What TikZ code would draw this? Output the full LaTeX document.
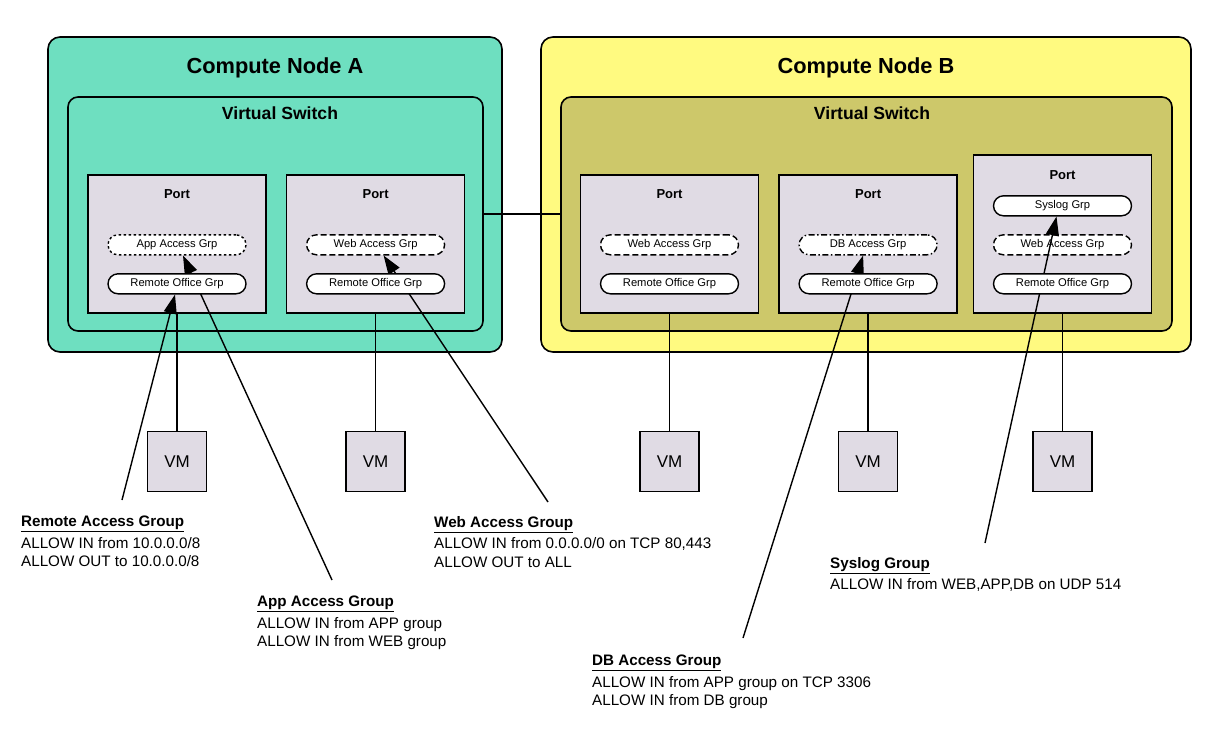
\documentclass[tikz,border=0pt]{standalone}
\usepackage{fontspec}
\setmainfont{Liberation Sans}
\usetikzlibrary{positioning,arrows.meta}
\definecolor{NodeTeal}{RGB}{110,223,192}
\definecolor{NodeYellow}{RGB}{255,250,128}
\definecolor{SwitchOlive}{RGB}{205,200,106}
\definecolor{PortGrey}{RGB}{224,219,228}
\tikzstyle{ComputeNode}=[rectangle, draw=black, line width=1.6pt, rounded corners=12pt, inner sep=0pt, minimum height=315pt]
\tikzstyle{VSwitch}=[rectangle, draw=black, line width=1.6pt, rounded corners=10pt, inner sep=0pt, minimum height=234pt]
\tikzstyle{PortBox}=[rectangle, draw=black, fill=PortGrey, line width=1.6pt, minimum width=178pt, minimum height=138pt, inner sep=0pt]
\tikzstyle{GrpPill}=[rectangle, draw=black, fill=white, line width=1.4pt, rounded corners=10pt, minimum width=138pt, minimum height=20pt, inner sep=0pt, font=\fontsize{11.2}{13}\selectfont]
\tikzstyle{VMBox}=[rectangle, draw=black, fill=PortGrey, line width=1.6pt, minimum width=59pt, minimum height=60pt, inner sep=0pt, font=\fontsize{17}{19}\selectfont]
\tikzstyle{NodeTitle}=[font=\bfseries\fontsize{21.8}{25}\selectfont]
\tikzstyle{SwitchTitle}=[font=\bfseries\fontsize{17.6}{20}\selectfont]
\tikzstyle{PortTitle}=[font=\bfseries\fontsize{13}{15}\selectfont]
\tikzstyle{Wire}=[line width=1.4pt]
\tikzstyle{GrpArrow}=[line width=1.4pt, -{Triangle[length=19pt,width=13pt]}]
\tikzstyle{RuleText}=[anchor=north west, align=left, inner sep=0pt, font=\fontsize{15.2}{18.5}\selectfont]

\begin{document}
\begin{tikzpicture}[x=1pt,y=-1pt]
	\useasboundingbox (0,0) rectangle (1210,732);

	%Nodos de computo
	\node[ComputeNode, fill=NodeTeal, minimum width=454pt]		(node_a)	at (275,194.5)	{};
	\node[ComputeNode, fill=NodeYellow, minimum width=650pt]	(node_b)	at (866,194.5)	{};
	\node[NodeTitle]	(node_a_t)	at (275,68)	{Compute Node A};
	\node[NodeTitle]	(node_b_t)	at (866,68)	{Compute Node B};

	%Switches
	\node[VSwitch, fill=NodeTeal, minimum width=415pt]		(vs_a)	at (275.5,214)	{};
	\node[VSwitch, fill=SwitchOlive, minimum width=611pt]	(vs_b)	at (866.5,214)	{};
	\node[SwitchTitle]	(vs_a_t)	at (280,113)	{Virtual Switch};
	\node[SwitchTitle]	(vs_b_t)	at (872,113)	{Virtual Switch};

	%Puertos
	\node[PortBox]	(port_a1)	at (177,244)	{};
	\node[PortBox]	(port_a2)	[right=19pt of port_a1]	{};
	\node[PortBox]	(port_b1)	at (669.5,244)	{};
	\node[PortBox]	(port_b2)	[right=19pt of port_b1]	{};
	\node[PortBox, minimum height=158pt]	(port_b3)	at (1062.5,234)	{};

	\foreach \p in {port_a1,port_a2,port_b1,port_b2}
		\node[PortTitle]	at ([yshift=-20pt]\p.north)	{Port};
	\node[PortTitle]	at ([yshift=-21pt]port_b3.north)	{Port};

	%Grupos
	\node[GrpPill, dash pattern=on 2.5pt off 2.5pt]	(port_a1_app)	at ([yshift=69pt]port_a1.south)	{App Access Grp};
	\node[GrpPill, dash pattern=on 6pt off 3pt]		(port_a2_web)	at ([yshift=69pt]port_a2.south)	{Web Access Grp};
	\node[GrpPill, dash pattern=on 6pt off 3pt]		(port_b1_web)	at ([yshift=69pt]port_b1.south)	{Web Access Grp};
	\node[GrpPill, dash pattern=on 6pt off 2.5pt on 1.5pt off 2.5pt]	(port_b2_db)	at ([yshift=69pt]port_b2.south)	{DB Access Grp};
	\node[GrpPill, dash pattern=on 6pt off 3pt]		(port_b3_web)	at ([yshift=69pt]port_b3.south)	{Web Access Grp};
	\node[GrpPill]	(port_b3_sys)	at ([yshift=108pt]port_b3.south)	{Syslog Grp};

	%Reglas
	\node[RuleText]	(lbl_remote)	at (21,516)	{\underline{\textbf{Remote Access Group}}\\[3pt]ALLOW IN from 10.0.0.0/8\\ALLOW OUT to 10.0.0.0/8};
	\node[RuleText]	(lbl_app)	at (257,596)	{\underline{\textbf{App Access Group}}\\[3pt]ALLOW IN from APP group\\ALLOW IN from WEB group};
	\node[RuleText]	(lbl_web)	at (434,516)	{\underline{\textbf{Web Access Group}}\\[3pt]ALLOW IN from 0.0.0.0/0 on TCP 80,443\\ALLOW OUT to ALL};
	\node[RuleText]	(lbl_sys)	at (830,557)	{\underline{\textbf{Syslog Group}}\\[3pt]ALLOW IN from WEB,APP,DB on UDP 514};
	\node[RuleText]	(lbl_db)	at (592,655)	{\underline{\textbf{DB Access Group}}\\[3pt]ALLOW IN from APP group on TCP 3306\\ALLOW IN from DB group};

	\coordinate (remote_tail)	at (122,500);
	\coordinate (app_tail)		at (332,580);
	\coordinate (web_tail)		at (548,502);
	\coordinate (db_tail)		at (743,638);
	\coordinate (sys_tail)		at (985,543);

	%Flechas
	\draw[GrpArrow]	(app_tail) -- ([xshift=6pt]port_a1_app.south);
	\draw[GrpArrow]	(web_tail) -- ([xshift=8pt]port_a2_web.south);
	\draw[GrpArrow]	(db_tail) -- ([xshift=-5pt]port_b2_db.south);
	\draw[GrpArrow]	(sys_tail) -- ([xshift=-6pt]port_b3_sys.south);

	\foreach \p in {port_a1,port_a2,port_b1,port_b2,port_b3}
		\node[GrpPill]	(\p_ro)	at ([yshift=30pt]\p.south)	{Remote Office Grp};

	\draw[GrpArrow]	(remote_tail) -- ([xshift=-2pt]port_a1_ro.south);

	%VMs
	\foreach \p in {port_a1,port_a2,port_b1,port_b2,port_b3}{
		\node[VMBox]	(\p_vm)	[below=117pt of \p]	{VM};
		\draw[Wire]	(\p) -- (\p_vm);
	}

	\draw[Wire]	(vs_a) -- (vs_b);

\end{tikzpicture}
\end{document}
